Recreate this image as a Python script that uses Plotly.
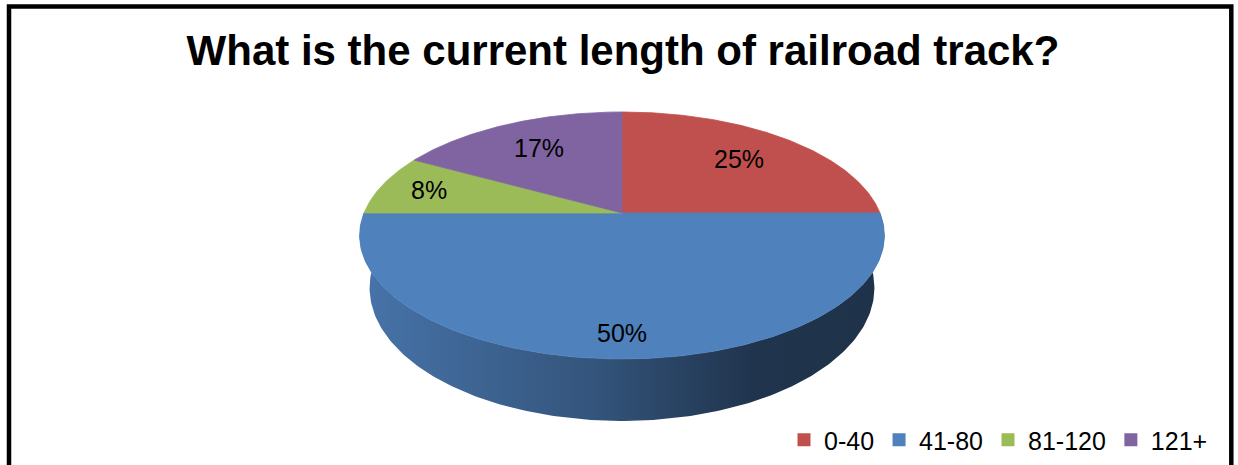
import numpy as np
import plotly.graph_objects as go

# Survey answers: share of respondents per track-length band
categories = ["0-40", "41-80", "81-120", "121+"]
percentages = [25, 50, 8, 17]
colors = ["#C0504D", "#4F81BD", "#9BBB59", "#8064A2"]
title_text = "What is the current length of railroad track?"

# Canvas and pie geometry (pixel space of the figure)
W, H = 1238, 465
CX, CY = 622, 213          # pie centre on the top face
RX, RY = 258, 119.4        # half axes of the tilted disc
K = 0.182                  # perspective strength (front larger than back)
DEPTH = 50.7               # thickness of the pie wall
BOTTOM_SQUEEZE = 0.962     # lower rim sits slightly narrower
LABEL_R = [0.70, 0.85, 0.80, 0.70]  # radial placement of the percent labels
FONT = "Arial, 'Liberation Sans', sans-serif"


def project(u, v, drop=0.0, squeeze=1.0):
    """Map unit-disc coords (u right, v toward viewer) to screen pixels."""
    s = 1.0 / (1.0 - K * v)
    return CX + RX * u * s * squeeze, CY + (RY * v + drop) * s


def shade(hex_color, f):
    h = hex_color.lstrip("#")
    r, g, b = (int(h[i:i + 2], 16) for i in (0, 2, 4))
    return "rgb({},{},{})".format(int(r * f), int(g * f), int(b * f))


total = float(sum(percentages))
bounds = np.concatenate([[0.0], np.cumsum(percentages) / total]) * 2 * np.pi

fig = go.Figure()

# Side wall: only the part of each slice that faces the viewer (v >= 0)
for i, c in enumerate(colors):
    a0 = max(bounds[i], np.pi / 2)
    a1 = min(bounds[i + 1], 3 * np.pi / 2)
    if a1 <= a0:
        continue
    t = np.linspace(a0, a1, 200)
    u, v = np.sin(t), -np.cos(t)
    xt, yt = project(u, v)
    xb, yb = project(u, v, drop=DEPTH, squeeze=BOTTOM_SQUEEZE)
    xs = np.concatenate([xt, xb[::-1], xt[:1]])
    ys = np.concatenate([yt, yb[::-1], yt[:1]])
    fig.add_trace(go.Scatter(
        x=xs, y=ys, mode="lines", fill="toself",
        line=dict(width=0),
        fillgradient=dict(
            type="horizontal",
            colorscale=[[0.0, shade(c, 0.90)], [0.44, shade(c, 0.66)],
                        [0.75, shade(c, 0.41)], [1.0, shade(c, 0.39)]],
        ),
        hoverinfo="skip", showlegend=False,
    ))

# Top face slices, clockwise from 12 o'clock
for i, c in enumerate(colors):
    t = np.linspace(bounds[i], bounds[i + 1], 200)
    xa, ya = project(np.sin(t), -np.cos(t))
    xs = np.concatenate([[CX], xa, [CX]])
    ys = np.concatenate([[CY], ya, [CY]])
    fig.add_trace(go.Scatter(
        x=xs, y=ys, mode="lines", fill="toself", fillcolor=c,
        line=dict(width=0.8, color=c),
        hoverinfo="skip", showlegend=False,
    ))

# Percent labels on the slices
for i, p in enumerate(percentages):
    mid = (bounds[i] + bounds[i + 1]) / 2
    lx, ly = project(LABEL_R[i] * np.sin(mid), -LABEL_R[i] * np.cos(mid))
    fig.add_annotation(x=lx, y=ly, text="{}%".format(p), showarrow=False,
                       font=dict(family=FONT, size=25, color="black"),
                       xanchor="center", yanchor="middle")

# Legend entries
for name, c in zip(categories, colors):
    fig.add_trace(go.Scatter(
        x=[None], y=[None], mode="markers", name=name,
        marker=dict(symbol="square", size=13, color=c, line=dict(width=0)),
    ))

# Chart frame
fig.add_shape(type="rect", xref="paper", yref="paper",
              x0=9 / W, x1=1231.3 / W, y0=-0.1, y1=1 - 6.5 / H,
              line=dict(color="black", width=4.5), fillcolor="rgba(0,0,0,0)")

fig.update_layout(
    width=W, height=H,
    margin=dict(l=0, r=0, t=0, b=0),
    paper_bgcolor="white", plot_bgcolor="white",
    title=dict(text="<b>{}</b>".format(title_text), x=623 / W, xanchor="center",
               y=1 - 50 / H, yanchor="middle", yref="container",
               font=dict(family=FONT, size=42, color="black")),
    xaxis=dict(range=[0, W], visible=False, fixedrange=True),
    yaxis=dict(range=[H, 0], visible=False, fixedrange=True),
    legend=dict(orientation="h", x=1213 / W, xanchor="right",
                y=1 - 440 / H, yanchor="middle",
                font=dict(family=FONT, size=25, color="black"),
                bgcolor="rgba(0,0,0,0)", itemclick=False),
    showlegend=True,
)

fig.write_html("out.html")
